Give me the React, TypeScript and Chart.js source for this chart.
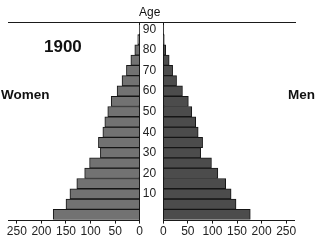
import React, { useEffect, useRef } from 'react';
import { Chart, registerables } from 'chart.js';

Chart.register(...registerables);

// Age groups (5-year bands), bottom to top
const ageGroups = ['0-4', '5-9', '10-14', '15-19', '20-24', '25-29', '30-34', '35-39', '40-44', '45-49',
  '50-54', '55-59', '60-64', '65-69', '70-74', '75-79', '80-84', '85-89', '90-94'];
// Women (left side) and men (right side)
const women = [176, 150, 142, 128, 112, 102, 80, 84, 75, 71, 65, 58, 46, 36, 27, 18, 10, 4, 1];
const men = [177, 148, 138, 127, 111, 98, 76, 80, 71, 66, 58, 51, 39, 27, 19, 12, 5, 2, 1];
// Tick labels
const xTickValues = [0, 50, 100, 150, 200, 250];
const ageTickLabels = ['10', '20', '30', '40', '50', '60', '70', '80', '90'];

const GAP = 24;      // half-width of the centre column, in axis units
const RANGE = 268;   // extent of each side, in axis units
const FONT = '"Liberation Sans", Arial, Helvetica, sans-serif';

const centrePlugin = {
  id: 'centreColumn',
  afterDraw(chart: any) {
    const { ctx, chartArea, scales } = chart;
    const x = scales.x;
    const y = scales.y;
    const l = x.getPixelForValue(-GAP);
    const r = x.getPixelForValue(GAP);
    const yb = Math.round(chartArea.bottom) + 0.5;
    ctx.save();
    ctx.strokeStyle = '#1a1a1a';
    ctx.lineWidth = 1;
    ctx.beginPath();
    ctx.moveTo(chartArea.left, yb);
    ctx.lineTo(l, yb);
    ctx.moveTo(r, yb);
    ctx.lineTo(chartArea.right, yb);
    ctx.stroke();
    ctx.fillStyle = '#222';
    ctx.font = `12px ${FONT}`;
    ctx.textAlign = 'left';
    ctx.textBaseline = 'middle';
    ageTickLabels.forEach((lab) => {
      const idx = ageGroups.findIndex((g) => g.startsWith(lab + '-'));
      if (idx >= 0) ctx.fillText(lab, l + 3, y.getPixelForValue(idx));
    });
    ctx.restore();
  },
};

export default function App() {
  const ref = useRef<HTMLCanvasElement | null>(null);

  useEffect(() => {
    if (!ref.current) return;
    const xTicks = [
      ...[...xTickValues].reverse().map((v) => -(GAP + v)),
      ...xTickValues.map((v) => GAP + v),
    ];
    const barCommon = {
      borderColor: '#151515',
      borderWidth: 1,
      borderSkipped: false,
      grouped: false,
      barPercentage: 1,
      categoryPercentage: 1,
    };
    const chart = new Chart(ref.current, {
      type: 'bar',
      data: {
        datasets: [
          {
            label: 'Women',
            data: women.map((v, i) => ({ x: [-(GAP + v), -GAP], y: i })) as any,
            backgroundColor: '#727272',
            ...barCommon,
          } as any,
          {
            label: 'Men',
            data: men.map((v, i) => ({ x: [GAP, GAP + v], y: i })) as any,
            backgroundColor: '#4c4c4c',
            ...barCommon,
          } as any,
        ],
      },
      options: {
        indexAxis: 'y',
        animation: false,
        responsive: true,
        maintainAspectRatio: false,
        layout: { padding: { top: 22, left: 8, right: 23, bottom: 2 } },
        plugins: { legend: { display: false }, tooltip: { enabled: false }, title: { display: false } },
        scales: {
          x: {
            type: 'linear',
            position: 'bottom',
            min: -(GAP + RANGE),
            max: GAP + RANGE,
            afterBuildTicks: (scale: any) => {
              scale.ticks = xTicks.map((value) => ({ value }));
            },
            ticks: {
              autoSkip: false,
              maxRotation: 0,
              padding: 1,
              color: '#222',
              font: { family: FONT, size: 12 },
              callback: (v: any) => String(Math.round(Math.abs(Number(v)) - GAP)),
            },
            grid: {
              color: (c: any) => (c.tick && Math.abs(Math.abs(c.tick.value) - GAP) < 1e-6 ? '#1a1a1a' : 'rgba(0,0,0,0)'),
              tickColor: '#1a1a1a',
              tickLength: 4,
              lineWidth: 1,
            },
            border: { display: false },
          },
          xTop: {
            type: 'linear',
            position: 'top',
            min: -(GAP + RANGE),
            max: GAP + RANGE,
            ticks: { display: false },
            grid: { display: false, drawTicks: false },
            border: { display: true, color: '#1a1a1a', width: 1 },
          },
          y: {
            type: 'linear',
            display: false,
            offset: false,
            grid: { offset: false },
            min: -0.5,
            max: 18.72,
            afterBuildTicks: (scale: any) => {
              scale.ticks = ageGroups.map((_, i) => ({ value: i }));
            },
          },
        },
      } as any,
      plugins: [centrePlugin],
    });
    return () => chart.destroy();
  }, []);

  const text = (s: string, style: React.CSSProperties) => (
    <div style={{ position: 'absolute', whiteSpace: 'nowrap', fontFamily: FONT, color: '#111', ...style }}>{s}</div>
  );

  return (
    <div style={{ position: 'absolute', left: 0, top: 0, width: 318, height: 242, background: '#fff' }}>
      <canvas ref={ref} />
      {text('Age', { left: 139, top: 6, fontSize: 12, lineHeight: '12px' })}
      {text('1900', { left: 44, top: 38, fontSize: 17, lineHeight: '17px', fontWeight: 'bold' })}
      {text('Women', { left: 1, top: 88, fontSize: 13.5, lineHeight: '13.5px', fontWeight: 'bold' })}
      {text('Men', { left: 288, top: 88, fontSize: 13.5, lineHeight: '13.5px', fontWeight: 'bold' })}
    </div>
  );
}
